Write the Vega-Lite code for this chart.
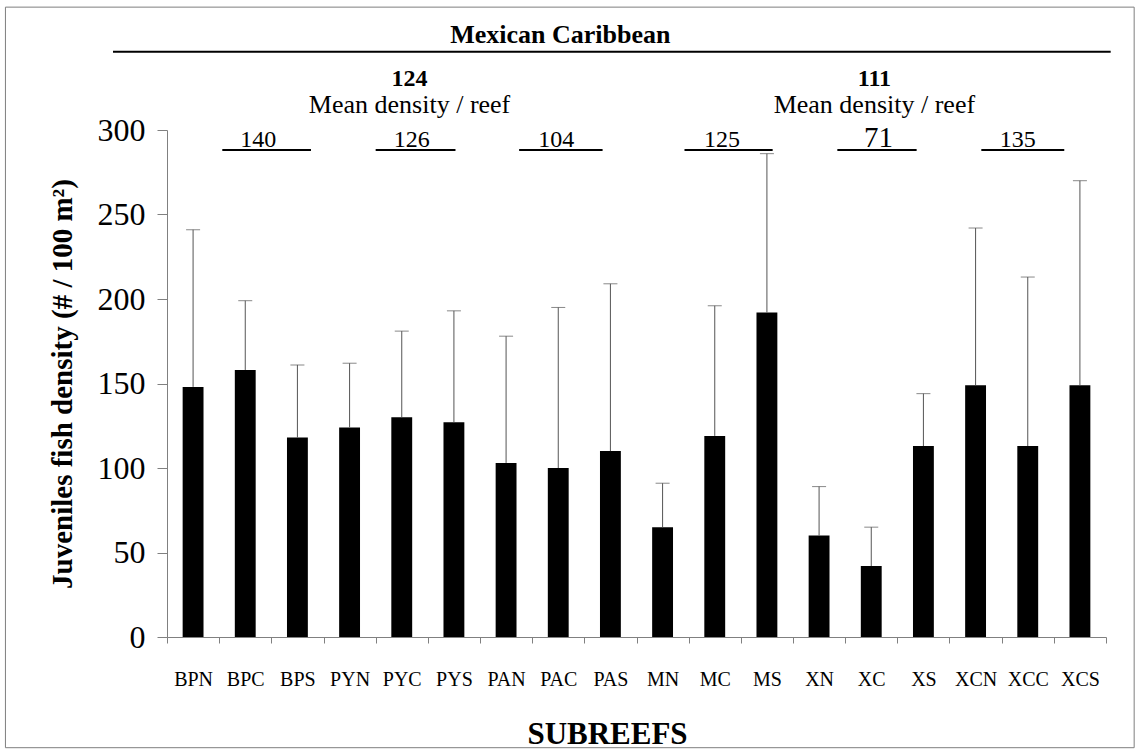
{
  "$schema": "https://vega.github.io/schema/vega-lite/v6.json",
  "width": 939,
  "height": 507,
  "autosize": {"type": "none"},
  "padding": {"left": 167, "top": 130, "right": 32, "bottom": 113},
  "background": "white",
  "config": {
    "view": {"stroke": null},
    "font": "Liberation Serif",
    "text": {"font": "Liberation Serif", "color": "black"},
    "axis": {"labelFont": "Liberation Serif", "titleFont": "Liberation Serif"}
  },
  "datasets": {
    "subreefs": [
      {"subreef": "BPN", "mean": 148, "upper": 241},
      {"subreef": "BPC", "mean": 158, "upper": 199},
      {"subreef": "BPS", "mean": 118, "upper": 161},
      {"subreef": "PYN", "mean": 124, "upper": 162},
      {"subreef": "PYC", "mean": 130, "upper": 181},
      {"subreef": "PYS", "mean": 127, "upper": 193},
      {"subreef": "PAN", "mean": 103, "upper": 178},
      {"subreef": "PAC", "mean": 100, "upper": 195},
      {"subreef": "PAS", "mean": 110, "upper": 209},
      {"subreef": "MN", "mean": 65, "upper": 91},
      {"subreef": "MC", "mean": 119, "upper": 196},
      {"subreef": "MS", "mean": 192, "upper": 286},
      {"subreef": "XN", "mean": 60, "upper": 89},
      {"subreef": "XC", "mean": 42, "upper": 65},
      {"subreef": "XS", "mean": 113, "upper": 144},
      {"subreef": "XCN", "mean": 149, "upper": 242},
      {"subreef": "XCC", "mean": 113, "upper": 213},
      {"subreef": "XCS", "mean": 149, "upper": 270}
    ],
    "groups": [
      {"mean": "140", "x1": 1.06, "x2": 2.76, "xt": 1.75},
      {"mean": "126", "x1": 4.0, "x2": 5.53, "xt": 4.69},
      {"mean": "104", "x1": 6.75, "x2": 8.35, "xt": 7.46},
      {"mean": "125", "x1": 9.92, "x2": 11.61, "xt": 10.64},
      {"mean": "71", "x1": 12.85, "x2": 14.37, "xt": 13.64},
      {"mean": "135", "x1": 15.61, "x2": 17.2, "xt": 16.31}
    ],
    "regions": [
      {"name": "Mexican Caribbean", "x": 7.54, "x1": -1.035, "x2": 18.09}
    ],
    "regionMeans": [
      {"mean": "124", "x": 4.65},
      {"mean": "111", "x": 13.56}
    ],
    "frame": [
      {"x1": -3.097, "x2": 18.54, "y1": -65.5, "y2": 372.7}
    ]
  },
  "layer": [
    {
      "data": {"name": "subreefs"},
      "encoding": {
        "x": {
          "field": "subreef",
          "type": "nominal",
          "sort": null,
          "scale": {"paddingInner": 0, "paddingOuter": 0},
          "axis": {
            "title": "SUBREEFS",
            "titleFont": "Liberation Serif",
            "titleFontSize": 31,
            "titleFontWeight": "bold",
            "titleColor": "black",
            "titleX": 440,
            "titleY": 106,
            "titleBaseline": "alphabetic",
            "titleAnchor": "middle",
            "labelFont": "Liberation Serif",
            "labelAngle": 0,
            "labelFontSize": 20,
            "labelColor": "black",
            "labelPadding": 26,
            "tickBand": "extent",
            "tickSize": 6,
            "tickColor": "#808080",
            "domainColor": "#808080",
            "grid": false
          }
        }
      },
      "layer": [
        {
          "mark": {"type": "bar", "color": "black", "width": {"band": 0.4}},
          "encoding": {
            "y": {
              "field": "mean",
              "type": "quantitative",
              "scale": {"domain": [0, 300], "nice": false},
              "axis": {
                "title": "Juveniles fish density (# / 100 m²)",
                "titleFont": "Liberation Serif",
                "titleFontSize": 29,
                "titleFontWeight": "bold",
                "titleColor": "black",
                "titlePadding": 20,
                "values": [0, 50, 100, 150, 200, 250, 300],
                "labelFont": "Liberation Serif",
                "labelFontSize": 32,
                "labelColor": "black",
                "labelPadding": 12,
                "tickSize": 10,
                "tickColor": "#808080",
                "domainColor": "#808080",
                "grid": false
              }
            }
          }
        },
        {
          "mark": {"type": "rule", "color": "#555555", "strokeWidth": 1},
          "encoding": {
            "y": {"field": "mean", "type": "quantitative", "scale": {"domain": [0, 300], "nice": false}},
            "y2": {"field": "upper"}
          }
        },
        {
          "mark": {"type": "tick", "orient": "horizontal", "size": 14, "thickness": 1, "color": "#555555"},
          "encoding": {
            "y": {"field": "upper", "type": "quantitative", "scale": {"domain": [0, 300], "nice": false}}
          }
        }
      ]
    },
    {
      "layer": [
        {
          "data": {"name": "frame"},
          "mark": {"type": "rect", "filled": false, "color": "#7f7f7f", "strokeWidth": 1, "clip": false},
          "encoding": {
            "x": {"field": "x1", "type": "quantitative", "scale": {"domain": [0, 18], "nice": false, "zero": false}, "axis": null},
            "x2": {"field": "x2"},
            "y": {"field": "y1", "type": "quantitative", "scale": {"domain": [0, 300], "nice": false}},
            "y2": {"field": "y2"}
          }
        },
        {
          "data": {"name": "regions"},
          "mark": {"type": "rule", "color": "black", "strokeWidth": 2, "clip": false},
          "encoding": {
            "x": {"field": "x1", "type": "quantitative", "scale": {"domain": [0, 18], "nice": false, "zero": false}, "axis": null},
            "x2": {"field": "x2"},
            "y": {"datum": 346.3, "type": "quantitative", "scale": {"domain": [0, 300], "nice": false}}
          }
        },
        {
          "data": {"name": "regions"},
          "mark": {"type": "text", "font": "Liberation Serif", "fontSize": 26, "fontWeight": "bold", "align": "center", "baseline": "alphabetic", "clip": false},
          "encoding": {
            "x": {"field": "x", "type": "quantitative", "scale": {"domain": [0, 18], "nice": false, "zero": false}, "axis": null},
            "y": {"datum": 351.4, "type": "quantitative", "scale": {"domain": [0, 300], "nice": false}},
            "text": {"field": "name"}
          }
        },
        {
          "data": {"name": "regionMeans"},
          "mark": {"type": "text", "font": "Liberation Serif", "fontSize": 24, "fontWeight": "bold", "align": "center", "baseline": "alphabetic", "clip": false},
          "encoding": {
            "x": {"field": "x", "type": "quantitative", "scale": {"domain": [0, 18], "nice": false, "zero": false}, "axis": null},
            "y": {"datum": 326, "type": "quantitative", "scale": {"domain": [0, 300], "nice": false}},
            "text": {"field": "mean"}
          }
        },
        {
          "data": {"name": "regionMeans"},
          "mark": {"type": "text", "font": "Liberation Serif", "fontSize": 26, "align": "center", "baseline": "alphabetic", "clip": false, "text": "Mean density / reef"},
          "encoding": {
            "x": {"field": "x", "type": "quantitative", "scale": {"domain": [0, 18], "nice": false, "zero": false}, "axis": null},
            "y": {"datum": 310, "type": "quantitative", "scale": {"domain": [0, 300], "nice": false}}
          }
        },
        {
          "data": {"name": "groups"},
          "mark": {"type": "rule", "color": "black", "strokeWidth": 2, "clip": false},
          "encoding": {
            "x": {"field": "x1", "type": "quantitative", "scale": {"domain": [0, 18], "nice": false, "zero": false}, "axis": null},
            "x2": {"field": "x2"},
            "y": {"datum": 288.2, "type": "quantitative", "scale": {"domain": [0, 300], "nice": false}}
          }
        },
        {
          "data": {"name": "groups"},
          "transform": [{"filter": "datum.mean != '71'"}],
          "mark": {"type": "text", "font": "Liberation Serif", "fontSize": 24, "align": "center", "baseline": "alphabetic", "clip": false},
          "encoding": {
            "x": {"field": "xt", "type": "quantitative", "scale": {"domain": [0, 18], "nice": false, "zero": false}, "axis": null},
            "y": {"datum": 290, "type": "quantitative", "scale": {"domain": [0, 300], "nice": false}},
            "text": {"field": "mean"}
          }
        },
        {
          "data": {"name": "groups"},
          "transform": [{"filter": "datum.mean == '71'"}],
          "mark": {"type": "text", "font": "Liberation Serif", "fontSize": 29, "align": "center", "baseline": "alphabetic", "clip": false},
          "encoding": {
            "x": {"field": "xt", "type": "quantitative", "scale": {"domain": [0, 18], "nice": false, "zero": false}, "axis": null},
            "y": {"datum": 290, "type": "quantitative", "scale": {"domain": [0, 300], "nice": false}},
            "text": {"field": "mean"}
          }
        }
      ]
    }
  ],
  "resolve": {"scale": {"x": "independent"}, "axis": {"x": "independent"}}
}
